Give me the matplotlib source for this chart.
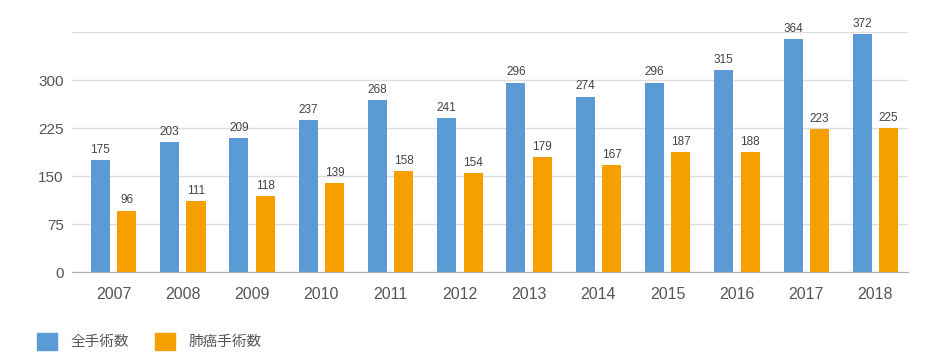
import matplotlib
matplotlib.use('Agg')
import matplotlib.pyplot as plt
from matplotlib.patches import Patch
import numpy as np

plt.rcParams['font.family'] = ['Liberation Sans', 'Noto Sans CJK JP']

# データ
years = ['2007', '2008', '2009', '2010', '2011', '2012',
         '2013', '2014', '2015', '2016', '2017', '2018']
total_ops = [175, 203, 209, 237, 268, 241, 296, 274, 296, 315, 364, 372]
lung_ops = [96, 111, 118, 139, 158, 154, 179, 167, 187, 188, 223, 225]
series_labels = ['全手術数', '肺癌手術数']

blue = '#5b9bd5'
orange = '#f5a000'
text_color = '#555555'

fig = plt.figure(figsize=(9.4, 3.6), dpi=100)
ax = fig.add_axes([72 / 940, 88 / 360, 836 / 940, 240 / 360])

x = np.arange(len(years))
w = 0.275
off = 0.19
b1 = ax.bar(x - off, total_ops, w, color=blue, zorder=3)
b2 = ax.bar(x + off, lung_ops, w, color=orange, zorder=3)

# 棒の上に数値
for bars, vals in ((b1, total_ops), (b2, lung_ops)):
    for rect, v in zip(bars, vals):
        ax.annotate(str(v), xy=(rect.get_x() + rect.get_width() / 2, v),
                    xytext=(0, 3), textcoords='offset points',
                    ha='center', va='bottom', fontsize=8.5, color='#444444')

ax.set_xlim(-0.6, 11.47)
ax.set_ylim(0, 375)
ax.set_yticks([0, 75, 150, 225, 300, 375])
ax.set_yticklabels(['0', '75', '150', '225', '300', ''])
ax.set_xticks(x)
ax.set_xticklabels(years)
ax.tick_params(axis='both', length=0, colors=text_color)
ax.tick_params(axis='y', pad=6, labelsize=11)
ax.tick_params(axis='x', pad=11, labelsize=11.5)

ax.grid(axis='y', color='#dddddd', linewidth=1, zorder=0)
for s in ('top', 'right', 'left'):
    ax.spines[s].set_visible(False)
ax.spines['bottom'].set_color('#aaaaaa')
ax.spines['bottom'].set_zorder(4)

# 凡例
handles = [Patch(color=blue), Patch(color=orange)]
fig.legend(handles, series_labels, loc='lower left',
           bbox_to_anchor=(24 / 940, -3 / 360), ncol=2, frameon=False,
           handlelength=1.37, handleheight=1.37, handletextpad=0.9,
           columnspacing=1.8, prop={'size': 10.5}, labelcolor=text_color)

plt.savefig('out.png', dpi=100)
